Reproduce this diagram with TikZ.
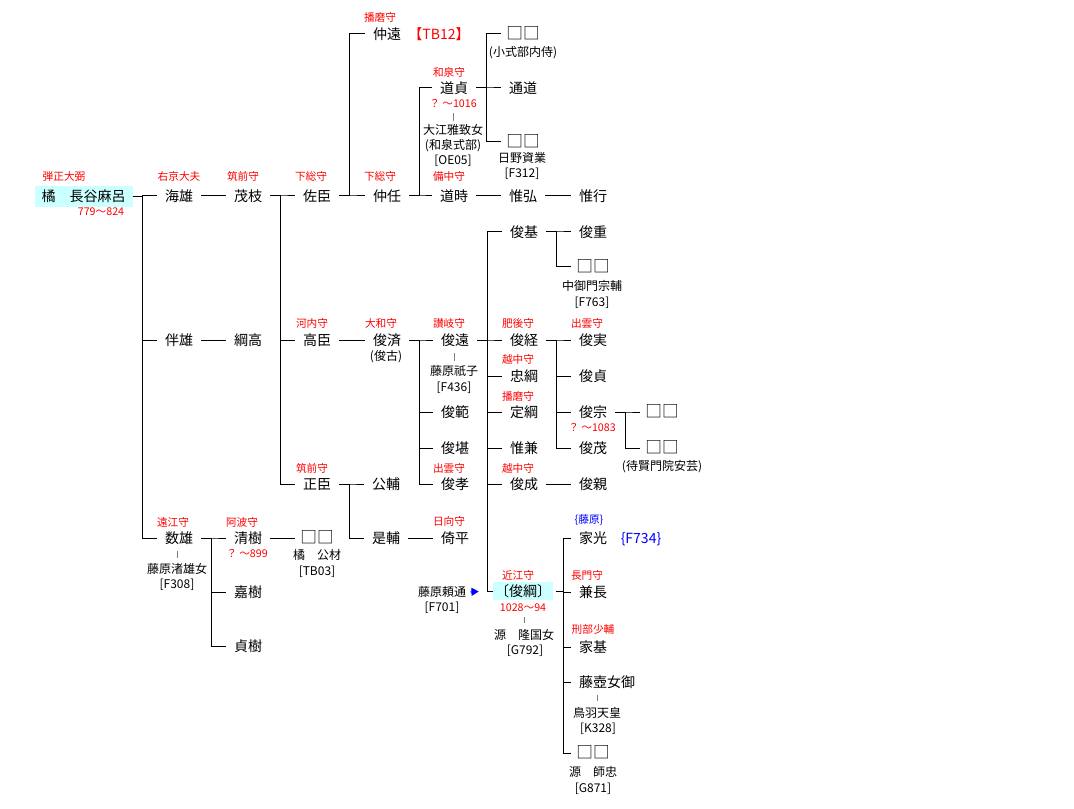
\documentclass[tikz,border=0pt]{standalone}
\usepackage{fontspec}
\newfontfamily\jp{Noto Sans CJK JP}
\usetikzlibrary{arrows.meta}
\definecolor{boxc}{RGB}{204,255,255}
\definecolor{rd}{RGB}{255,0,0}
\definecolor{bu}{RGB}{0,0,255}
\definecolor{tg}{RGB}{128,128,128}
\begin{document}
\begin{tikzpicture}[x=0.75pt,y=-0.75pt,
  nm/.style={font=\jp\fontsize{10.5}{12}\selectfont, inner xsep=6pt, inner ysep=0pt, text height=9.24pt, text depth=1.26pt},
  sq/.style={font=\jp\fontsize{12.5}{14}\selectfont, inner xsep=4pt, inner ysep=0pt, text height=10pt, text depth=1.2pt},
  sub/.style={font=\jp\fontsize{9}{10}\selectfont, inner sep=0pt, text height=7.92pt, text depth=1.08pt},
  rl/.style={font=\jp\fontsize{8}{9}\selectfont, text=rd, inner sep=0pt, text height=7.04pt, text depth=0.96pt},
  bl/.style={font=\jp\fontsize{8}{9}\selectfont, text=bu, inner sep=0pt, text height=7.04pt, text depth=0.96pt},
  ln/.style={line width=0.75pt, black},
  tk/.style={line width=0.75pt, tg},
  arr/.style={line width=0.75pt, bu, -{Triangle[length=5.5pt,width=6pt]}}
]
\fill[white] (0,0) rectangle (1074,809);
\useasboundingbox (0,0) rectangle (1074,809);

% ---------- names ----------
\node[nm, fill=boxc, inner xsep=5.25pt, inner ysep=2.6pt] (root) at (83.5,196.5) {橘　長谷麻呂};
\node[nm] (umio) at (179,196) {海雄};
\node[nm] (mogeda) at (248,196) {茂枝};
\node[nm] (sukeomi) at (317,196) {佐臣};
\node[nm] (nakatoo) at (387,34) {仲遠};
\node[nm] (nakato) at (387,196) {仲任};
\node[nm] (michisada) at (454,88) {道貞};
\node[nm] (michitoki) at (454,196) {道時};
\node[sq] (sqA) at (523,34) {□□};
\node[nm] (tsumichi) at (523,88) {通道};
\node[sq] (sqB) at (523,142) {□□};
\node[nm] (korehiro) at (523,196) {惟弘};
\node[nm] (koreyuki) at (593,196) {惟行};

\node[nm] (tomoo) at (179,340) {伴雄};
\node[nm] (tsunataka) at (248,340) {綱高};
\node[nm] (takaomi) at (317,340) {高臣};
\node[nm] (toshinari) at (387,340) {俊済};
\node[nm] (toshitoo) at (455,340) {俊遠};
\node[nm] (toshimoto) at (524,232) {俊基};
\node[nm] (toshishige) at (593,232) {俊重};
\node[sq] (sqC) at (593,267) {□□};
\node[nm] (toshitsune) at (524,340) {俊経};
\node[nm] (toshizane) at (593,340) {俊実};
\node[nm] (tadatsuna) at (524,376) {忠綱};
\node[nm] (toshisada) at (593,376) {俊貞};
\node[nm] (toshinori) at (455,412) {俊範};
\node[nm] (sadatsuna) at (524,412) {定綱};
\node[nm] (toshimune) at (593,412) {俊宗};
\node[sq] (sqD) at (662,412) {□□};
\node[nm] (toshitan) at (455,448) {俊堪};
\node[nm] (korekane) at (524,448) {惟兼};
\node[nm] (toshimochi) at (593,448) {俊茂};
\node[sq] (sqE) at (662,448) {□□};
\node[nm] (masaomi) at (317,484) {正臣};
\node[nm] (kinsuke) at (386,484) {公輔};
\node[nm] (toshitaka) at (455,484) {俊孝};
\node[nm] (toshinari2) at (524,484) {俊成};
\node[nm] (toshichika) at (593,484) {俊親};

\node[nm] (kazuo) at (179,538) {数雄};
\node[nm] (kiyoki) at (248,538) {清樹};
\node[sq] (sqF) at (317,538) {□□};
\node[nm] (koresuke) at (386,538) {是輔};
\node[nm] (yorihira) at (455,538) {倚平};
\node[nm] (iemitsu) at (593,538) {家光};
\node[nm] (yoshiki) at (248,592) {嘉樹};
\node[nm, fill=boxc, inner xsep=1.5pt, inner ysep=1.5pt] (toshitsuna) at (523,591) {〔俊綱〕};
\node[nm] (kanenaga) at (593,592) {兼長};
\node[nm] (sadaki) at (248,646) {貞樹};
\node[nm] (iemoto) at (593,647) {家基};
\node[nm] (fujitsubo) at (607,682) {藤壺女御};
\node[sq] (sqG) at (593,753) {□□};

% ---------- red / blue notes ----------
\node[rl] (r1) at (64,176) {弾正大弼};
\node[rl] (r2) at (179,176) {右京大夫};
\node[rl] (r3) at (243,176) {筑前守};
\node[rl] (r4) at (311,176) {下総守};
\node[rl] (r5) at (380,176) {下総守};
\node[rl] (r6) at (449,176) {備中守};
\node[rl] (r7) at (380,17) {播磨守};
\node[rl] (r8) at (449,72) {和泉守};
\node[rl] (r9) at (453,103) {？ ～1016};
\node[rl] (r10) at (101,211) {779～824};
\node[rl] (r11) at (312,323) {河内守};
\node[rl] (r12) at (381,323) {大和守};
\node[rl] (r13) at (449,323) {讃岐守};
\node[rl] (r14) at (518,323) {肥後守};
\node[rl] (r15) at (587,323) {出雲守};
\node[rl] (r16) at (518,359) {越中守};
\node[rl] (r17) at (518,396) {播磨守};
\node[rl] (r18) at (592,427) {？ ～1083};
\node[rl] (r19) at (449,468) {出雲守};
\node[rl] (r20) at (518,468) {越中守};
\node[rl] (r21) at (312,468) {筑前守};
\node[rl] (r22) at (173,522) {遠江守};
\node[rl] (r23) at (242,522) {阿波守};
\node[rl] (r24) at (449,521) {日向守};
\node[rl] (r25) at (247,553) {？ ～899};
\node[rl] (r26) at (518,575) {近江守};
\node[rl] (r27) at (587,575) {長門守};
\node[rl] (r28) at (523,607) {1028～94};
\node[rl] (r29) at (593,629) {刑部少輔};
\node[nm, text=rd, inner xsep=0pt] (tb12) at (439,34) {【TB12】};
\node[bl] (b1) at (589,519) {\{藤原\}};
\node[nm, text=bu, inner xsep=0pt] (b2) at (641,538) {\{F734\}};

% ---------- sub labels ----------
\node[sub] (s1) at (523,52) {(小式部内侍)};
\node[sub] (ooe) at (453,130) {大江雅致女};
\node[sub] (s3) at (453,145) {(和泉式部)};
\node[sub] (s4) at (453,160) {[OE05]};
\node[sub] (s5) at (522,158) {日野資業};
\node[sub] (s6) at (522,173) {[F312]};
\node[sub] (s7) at (592,286) {中御門宗輔};
\node[sub] (s8) at (592,302) {[F763]};
\node[sub] (s9) at (386,356) {(俊古)};
\node[sub] (nobuko) at (454,371) {藤原祇子};
\node[sub] (s11) at (454,387) {[F436]};
\node[sub] (s12) at (662,466) {(待賢門院安芸)};
\node[sub] (s13) at (317,555) {橘　公材};
\node[sub] (s14) at (317,571) {[TB03]};
\node[sub] (fujiwo) at (177,569) {藤原渚雄女};
\node[sub] (s16) at (177,584) {[F308]};
\node[sub] (yorimichi) at (442,592) {藤原頼通};
\node[sub] (s18) at (442,607) {[F701]};
\node[sub] (minamoto) at (524,635) {源　隆国女};
\node[sub] (s20) at (525,650) {[G792]};
\node[sub] (toba) at (597,713) {鳥羽天皇};
\node[sub] (s22) at (598,728) {[K328]};
\node[sub] (s23) at (593,772) {源　師忠};
\node[sub] (s24) at (593,788) {[G871]};

% ---------- connectors ----------
\foreach \c in {umio,tomoo,kazuo} \draw[ln] (root.east) -- ++(10,0) |- (\c.west);
\draw[ln] (umio.east) -- (mogeda.west);
\draw[ln] (tomoo.east) -- (tsunataka.west);
\foreach \c in {sukeomi,takaomi,masaomi} \draw[ln] (mogeda.east) -- ++(10,0) |- (\c.west);
\foreach \c in {nakatoo,nakato} \draw[ln] (sukeomi.east) -- ++(10,0) |- (\c.west);
\foreach \c in {michisada,michitoki} \draw[ln] (nakato.east) -- ++(10,0) |- (\c.west);
\foreach \c in {sqA,tsumichi,sqB} \draw[ln] (michisada.east) -- ++(10,0) |- (\c.west);
\draw[ln] (michitoki.east) -- (korehiro.west);
\draw[ln] (korehiro.east) -- (koreyuki.west);
\draw[ln] (takaomi.east) -- (toshinari.west);
\foreach \c in {toshitoo,toshinori,toshitan,toshitaka} \draw[ln] (toshinari.east) -- ++(10,0) |- (\c.west);
\foreach \c in {toshimoto,toshitsune,tadatsuna,sadatsuna,korekane,toshinari2,toshitsuna} \draw[ln] (toshitoo.east) -- ++(10,0) |- (\c.west);
\foreach \c in {toshishige,sqC} \draw[ln] (toshimoto.east) -- ++(10,0) |- (\c.west);
\foreach \c in {toshizane,toshisada,toshimune,toshimochi} \draw[ln] (toshitsune.east) -- ++(10,0) |- (\c.west);
\foreach \c in {sqD,sqE} \draw[ln] (toshimune.east) -- ++(10,0) |- (\c.west);
\draw[ln] (toshinari2.east) -- (toshichika.west);
\foreach \c in {kinsuke,koresuke} \draw[ln] (masaomi.east) -- ++(10,0) |- (\c.west);
\draw[ln] (koresuke.east) -- (yorihira.west);
\foreach \c in {kiyoki,yoshiki,sadaki} \draw[ln] (kazuo.east) -- ++(10,0) |- (\c.west);
\draw[ln] (kiyoki.east) -- (sqF.west);
\foreach \c in {iemitsu,kanenaga,iemoto,fujitsubo,sqG} \draw[ln] ([xshift=2pt]toshitsuna.east) -- ++(8,0) |- (\c.west);
\draw[arr, shorten <=3pt, shorten >=10.5pt] (yorimichi.east) -- (toshitsuna.west);

% spouse ticks
\draw[tk] (ooe.north) ++(0,-3) -- ++(0,-8);
\draw[tk] (nobuko.north) ++(0,-4) -- ++(0,-8);
\draw[tk] (fujiwo.north) ++(0,-5) -- ++(0,-7);
\draw[tk] (minamoto.north) ++(0,-6) -- ++(0,-6);
\draw[tk] (toba.north) ++(0,-6) -- ++(0,-6);
\end{tikzpicture}
\end{document}
